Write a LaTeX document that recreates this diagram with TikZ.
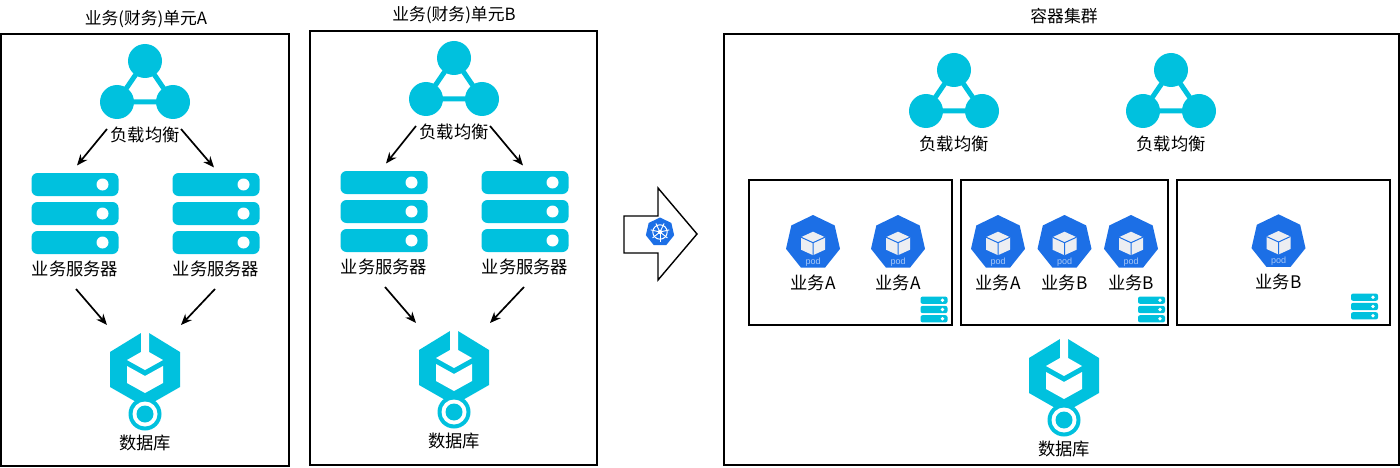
\documentclass[tikz,border=0pt]{standalone}
\usepackage{fontspec}
\setmainfont{Noto Sans CJK SC}
\newfontfamily\podfont{Liberation Sans}
\usetikzlibrary{arrows.meta, shapes.geometric, calc}
\definecolor{my-teal}{HTML}{00C1DE}
\definecolor{my-blue}{HTML}{1C6FE6}
\definecolor{my-cube}{HTML}{ECEEF2}
\definecolor{my-podtext}{HTML}{A9C8F5}
\tikzset{
    my-panel/.style={
      draw, line width=1.4pt, inner sep=0pt
    },
    my-label/.style={
      font=\fontsize{17.3}{18}\selectfont, inner sep=0pt
    },
    my-title/.style={
      font=\fontsize{16.8}{18}\selectfont, inner sep=0pt
    },
    my-arrow/.style={
      -{Stealth[length=11pt, width=9pt]}, line width=1.7pt
    },
    my-pod/.style={
      regular polygon, regular polygon sides=7, minimum size=55.4pt,
      fill=my-blue, inner sep=0pt, outer sep=0pt
    },
    my-wheel/.style={
      regular polygon, regular polygon sides=7, minimum size=29pt,
      fill=my-blue, inner sep=0pt, outer sep=0pt
    },
    my-lb/.pic={
      \draw[my-teal, line width=5pt] (0,-24) -- (-28,17) -- (28,17) -- cycle;
      \fill[my-teal] (0,-24) circle (17) (-28,17) circle (17) (28,17) circle (17);
    },
    my-server/.pic={
      \foreach \y in {-29,0,29} {
        \fill[my-teal, rounded corners=6pt] (-43.5,\y-11.5) rectangle (43.5,\y+11.5);
        \fill[white] (27.5,\y) circle (6);
      }
    },
    my-small-server/.pic={
      \foreach \y in {-9.3,0,9.3} {
        \fill[my-teal, rounded corners=2pt] (-13.5,\y-3.6) rectangle (13.5,\y+3.6);
        \fill[white] (8.5,\y) circle (1.9);
      }
    },
    my-db/.pic={
      \fill[my-teal] (-4,-37) -- (-35,-18) -- (-35,17) -- (0,37) -- (35,17) -- (35,-18) -- (4,-37) -- cycle;
      \fill[white] (-4,-38) -- (-4,-18) -- (-18,-10) -- (0,0) -- (18,-10) -- (4,-18) -- (4,-38) -- cycle;
      \fill[white] (-18,-4) -- (0,6) -- (18,-4) -- (18,13) -- (0,23) -- (-18,13) -- cycle;
      \fill[my-teal] (0,44) circle (16.5);
      \fill[white] (0,44) circle (12.5);
      \fill[my-teal] (0,44) circle (8.5);
    },
    my-box/.pic={
      \fill[my-cube] (0,-11) -- (12,-5.5) -- (12,7) -- (0,12.5) -- (-12,7) -- (-12,-5.5) -- cycle;
      \draw[my-blue, line width=1pt] (-12,-5.5) -- (0,0) -- (12,-5.5) (0,0) -- (0,12.5);
      \node[font=\podfont\fontsize{9}{9}\selectfont, text=my-podtext, inner sep=0pt] (-text) at (0,19) {pod};
    },
    my-helm/.pic={
      \draw[white, line width=1pt] (0,0) circle (7.2);
      \foreach \a in {0,...,6} {
        \draw[white, line width=.9pt] (0,0) -- ({90+\a*360/7}:9.5);
      }
      \fill[white] (0,0) circle (2.2);
    },
}

\begin{document}
\begin{tikzpicture}[x=1pt, y=-1pt]

        \useasboundingbox (0,0) rectangle (1400,468);

        % PANELS AND TITLES
        \node[my-panel, minimum width=288pt, minimum height=432pt] (UNITA) at (145,250) {};
        \node[my-panel, minimum width=287pt, minimum height=434pt] (UNITB) at (453.5,248) {};
        \node[my-panel, minimum width=675pt, minimum height=431pt] (CLUSTER) at (1061.5,249.5) {};
        \node[my-title] (TITLEA) at (146,19) {业务(财务)单元A};
        \node[my-title] (TITLEB) at (454,15) {业务(财务)单元B};
        \node[my-title] (TITLEC) at (1064,16) {容器集群};

        % UNIT A
        \coordinate (LBA) at (145,85);
        \coordinate (SERVERA1) at (75,213.5);
        \coordinate (SERVERA2) at (216,213.5);
        \coordinate (DBA) at (145,370);
        \pic at (LBA) {my-lb};
        \pic at (SERVERA1) {my-server};
        \pic at (SERVERA2) {my-server};
        \pic at (DBA) {my-db};
        \node[my-label] (LBLA) at (145,135) {负载均衡};
        \node[my-label] (SERVERLA1) at (75,269) {业务服务器};
        \node[my-label] (SERVERLA2) at (216,269) {业务服务器};
        \node[my-label] (DBLA) at (145,443) {数据库};

        % UNIT A ARROWS
        \coordinate (LBOUTA1) at ($(LBLA) + (-38, -6)$);
        \coordinate (LBOUTA2) at ($(LBLA) + (36, -6)$);
        \coordinate (SERVERINA1) at ($(SERVERA1) + (2, -48)$);
        \coordinate (SERVERINA2) at ($(SERVERA2) + (-2, -46)$);
        \coordinate (SERVEROUTA1) at ($(SERVERLA1) + (1, 20)$);
        \coordinate (SERVEROUTA2) at ($(SERVERLA2) + (-1, 20)$);
        \coordinate (DBINA1) at ($(DBLA) + (-38, -118)$);
        \coordinate (DBINA2) at ($(DBLA) + (36, -118)$);
        \draw[my-arrow] (LBOUTA1) -- (SERVERINA1);
        \draw[my-arrow] (LBOUTA2) -- (SERVERINA2);
        \draw[my-arrow] (SERVEROUTA1) -- (DBINA1);
        \draw[my-arrow] (SERVEROUTA2) -- (DBINA2);

        % UNIT B
        \coordinate (LBB) at ($(LBA) + (309, -3)$);
        \coordinate (SERVERB1) at ($(SERVERA1) + (309, -2)$);
        \coordinate (SERVERB2) at ($(SERVERA2) + (309, -2)$);
        \coordinate (DBB) at ($(DBA) + (309, -2)$);
        \pic at (LBB) {my-lb};
        \pic at (SERVERB1) {my-server};
        \pic at (SERVERB2) {my-server};
        \pic at (DBB) {my-db};
        \node[my-label] (LBLB) at ($(LBLA) + (309, -3)$) {负载均衡};
        \node[my-label] (SERVERLB1) at ($(SERVERLA1) + (309, -2)$) {业务服务器};
        \node[my-label] (SERVERLB2) at ($(SERVERLA2) + (309, -2)$) {业务服务器};
        \node[my-label] (DBLB) at ($(DBLA) + (309, -2)$) {数据库};

        % UNIT B ARROWS
        \coordinate (LBOUTB1) at ($(LBLB) + (-38, -6)$);
        \coordinate (LBOUTB2) at ($(LBLB) + (36, -6)$);
        \coordinate (SERVERINB1) at ($(SERVERB1) + (2, -48)$);
        \coordinate (SERVERINB2) at ($(SERVERB2) + (-2, -46)$);
        \coordinate (SERVEROUTB1) at ($(SERVERLB1) + (1, 20)$);
        \coordinate (SERVEROUTB2) at ($(SERVERLB2) + (-1, 20)$);
        \coordinate (DBINB1) at ($(DBLB) + (-38, -118)$);
        \coordinate (DBINB2) at ($(DBLB) + (36, -118)$);
        \draw[my-arrow] (LBOUTB1) -- (SERVERINB1);
        \draw[my-arrow] (LBOUTB2) -- (SERVERINB2);
        \draw[my-arrow] (SERVEROUTB1) -- (DBINB1);
        \draw[my-arrow] (SERVEROUTB2) -- (DBINB2);

        % MIGRATION ARROW
        \draw[line width=1.4pt, line join=miter] (624,216) -- (658,216) -- (658,188) -- (697,234) -- (658,280) -- (658,253) -- (624,253) -- cycle;
        \node[my-wheel] (WHEEL) at (660,232) {};
        \pic at (WHEEL) {my-helm};

        % CLUSTER LOAD BALANCERS
        \coordinate (LBC1) at ($(LBA) + (809, 9)$);
        \coordinate (LBC2) at ($(LBA) + (1026, 9)$);
        \pic at (LBC1) {my-lb};
        \pic at (LBC2) {my-lb};
        \node[my-label] (LBLC1) at ($(LBLA) + (809, 9)$) {负载均衡};
        \node[my-label] (LBLC2) at ($(LBLA) + (1026, 9)$) {负载均衡};

        % NODE BOXES
        \node[my-panel, minimum width=203pt, minimum height=145pt] (HOST1) at (850.5,252.5) {};
        \node[my-panel, minimum width=207pt, minimum height=145pt] (HOST2) at (1064.5,252.5) {};
        \node[my-panel, minimum width=213pt, minimum height=145pt] (HOST3) at (1283.5,252.5) {};
        \pic at (934,309.5) {my-small-server};
        \pic at (1151.5,309.5) {my-small-server};
        \pic at (1364.5,306.5) {my-small-server};

        % PODS
        \node[my-pod] (POD1) at (813,242.7) {};
        \node[my-pod] (POD2) at (898,242.7) {};
        \node[my-pod] (POD3) at (998,242.7) {};
        \node[my-pod] (POD4) at (1064.5,242.7) {};
        \node[my-pod] (POD5) at (1131,242.7) {};
        \node[my-pod] (POD6) at (1278.5,242) {};
        \pic (BOX1) at (POD1) {my-box};
        \pic (BOX2) at (POD2) {my-box};
        \pic (BOX3) at (POD3) {my-box};
        \pic (BOX4) at (POD4) {my-box};
        \pic (BOX5) at (POD5) {my-box};
        \pic (BOX6) at (POD6) {my-box};
        \node[my-label] (PODL1) at ($(POD1) + (0, 40)$) {业务A};
        \node[my-label] (PODL2) at ($(POD2) + (0, 40)$) {业务A};
        \node[my-label] (PODL3) at ($(POD3) + (0, 40)$) {业务A};
        \node[my-label] (PODL4) at ($(POD4) + (0, 40)$) {业务B};
        \node[my-label] (PODL5) at ($(POD5) + (0, 40)$) {业务B};
        \node[my-label] (PODL6) at ($(POD6) + (0, 40)$) {业务B};

        % CLUSTER DATABASE
        \coordinate (DBC) at ($(DBA) + (919, 6)$);
        \pic at (DBC) {my-db};
        \node[my-label] (DBLC) at ($(DBLA) + (919, 6)$) {数据库};

    \end{tikzpicture}
\end{document}
